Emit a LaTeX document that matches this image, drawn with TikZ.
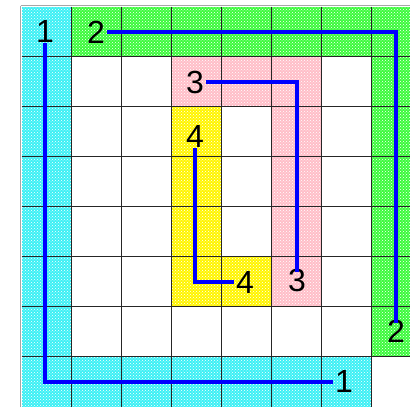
\documentclass[tikz,border=0pt]{standalone}
\usepackage{fontspec}
\setmainfont{Liberation Sans}
\usetikzlibrary{patterns}
\definecolor{cyanc}{RGB}{60,240,245}
\definecolor{greenc}{RGB}{60,250,60}
\definecolor{pinkc}{RGB}{255,190,200}
\definecolor{yellowc}{RGB}{255,245,0}
\tikzset{
  lbl/.style={inner sep=0pt, font=\fontsize{32}{32}\selectfont},
  path/.style={draw=blue, line width=4pt, line join=miter},
  cellfill/.style={fill=#1},
  texture/.style={pattern=crosshatch dots, pattern color=white},
  gridline/.style={draw=black!85, line width=0.9pt}
}
\newcommand{\cellrect}[5]{% colour, col0, row0, col1, row1 (exclusive)
  \fill[cellfill=#1] (21.7+50*#2,6.7+50*#3) rectangle (21.7+50*#4,6.7+50*#5);
  \fill[texture] (21.7+50*#2,6.7+50*#3) rectangle (21.7+50*#4,6.7+50*#5);
}
\begin{document}
\begin{tikzpicture}[x=1pt,y=-1pt]
\useasboundingbox (0,0) rectangle (410,407);
\fill[white] (0,0) rectangle (410,407);
\begin{scope}
\clip (0,0) rectangle (410,407);
% coloured cells
\cellrect{cyanc}{0}{0}{1}{8}
\cellrect{cyanc}{1}{7}{7}{8}
\cellrect{greenc}{1}{0}{8}{1}
\cellrect{greenc}{7}{1}{8}{7}
\cellrect{pinkc}{3}{1}{6}{2}
\cellrect{pinkc}{5}{2}{6}{6}
\cellrect{yellowc}{3}{2}{4}{6}
\cellrect{yellowc}{4}{5}{5}{6}
% grid
\foreach \i in {1,...,8} \draw[gridline] (21.7+50*\i,6.7) -- (21.7+50*\i,406.7);
\foreach \j in {1,...,7} \draw[gridline] (21.7,6.7+50*\j) -- (430,6.7+50*\j);
\draw[draw=black!35, line width=1.2pt] (20.5,5.5) -- (430,5.5);
\draw[draw=black!35, line width=1.2pt] (20.5,5.5) -- (20.5,407);
\end{scope}
% labels
\node[lbl] (a1) at (45,31.5) {1};
\node[lbl] (b1) at (344,381.5) {1};
\node[lbl] (a2) at (96,32) {2};
\node[lbl] (b2) at (396,331) {2};
\node[lbl] (a3) at (195,82) {3};
\node[lbl] (b3) at (297,280) {3};
\node[lbl] (a4) at (195,136) {4};
\node[lbl] (b4) at (245,282) {4};
% paths
\draw[path] (a1.south) |- ([xshift=-2pt]b1.west);
\draw[path] ([xshift=2pt]a2.east) -| ([yshift=-3pt]b2.north);
\draw[path] ([xshift=2pt]a3.east) -| ([yshift=-4pt]b3.north);
\draw[path] ([yshift=-1pt]a4.south) |- ([xshift=-2pt]b4.west);
\end{tikzpicture}
\end{document}
